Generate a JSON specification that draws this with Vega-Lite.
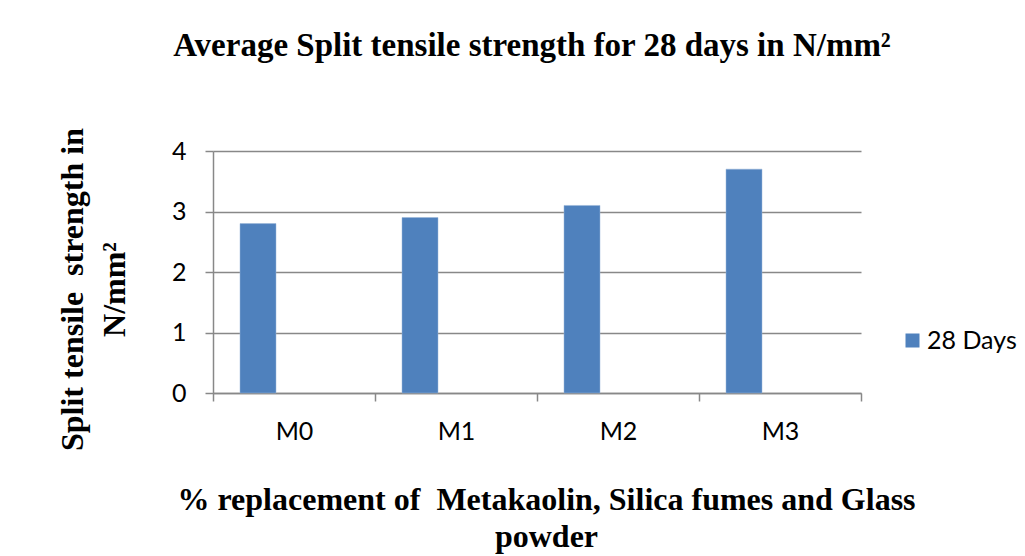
{
  "$schema": "https://vega.github.io/schema/vega-lite/v6.json",
  "width": 648,
  "height": 242,
  "autosize": {"type": "none"},
  "padding": {"left": 213, "top": 151, "right": 164, "bottom": 163},
  "background": "white",
  "title": {
    "text": "Average Split tensile strength for 28 days in N/mm²",
    "font": "Liberation Serif",
    "fontSize": 33,
    "fontWeight": "bold",
    "color": "black",
    "anchor": "middle",
    "frame": "group",
    "baseline": "alphabetic",
    "offset": 39,
    "dx": -5
  },
  "data": {
    "values": [
      {"mix": "M0", "series": "28 Days", "strength": 2.8},
      {"mix": "M1", "series": "28 Days", "strength": 2.9},
      {"mix": "M2", "series": "28 Days", "strength": 3.1},
      {"mix": "M3", "series": "28 Days", "strength": 3.7}
    ]
  },
  "mark": {"type": "bar", "stroke": "#9bb7d9", "strokeWidth": 0.5},
  "encoding": {
    "x": {
      "field": "mix",
      "type": "nominal",
      "sort": ["M0", "M1", "M2", "M3"],
      "scale": {"paddingInner": 0, "paddingOuter": 0},
      "axis": {
        "title": ["% replacement of\u00a0 Metakaolin, Silica fumes and Glass", "powder"],
        "titleFont": "Liberation Serif",
        "titleFontSize": 32,
        "titleFontWeight": "bold",
        "titleColor": "black",
        "titleBaseline": "alphabetic",
        "titleAnchor": "start",
        "titleAlign": "center",
        "titleX": 333,
        "titleY": 116,
        "titleLineHeight": 37,
        "labelAngle": 0,
        "labelFont": "Lato",
        "labelFontSize": 25,
        "labelColor": "black",
        "labelPadding": 18,
        "labelBaseline": "top",
        "tickBand": "extent",
        "tickSize": 8,
        "tickColor": "#888888",
        "tickWidth": 1.5,
        "domainColor": "#888888",
        "domainWidth": 1.5,
        "grid": false
      }
    },
    "xOffset": {
      "field": "series",
      "type": "nominal",
      "scale": {"domain": ["28 Days", "s2", "s3"], "paddingInner": 0, "paddingOuter": 0.75}
    },
    "y": {
      "field": "strength",
      "type": "quantitative",
      "scale": {"domain": [0, 4], "nice": false},
      "axis": {
        "title": ["Split tensile\u00a0 strength in", "N/mm²"],
        "titleFont": "Liberation Serif",
        "titleFontSize": 32,
        "titleFontWeight": "bold",
        "titleColor": "black",
        "titleAngle": -90,
        "titleBaseline": "alphabetic",
        "titleAlign": "center",
        "titleAnchor": "start",
        "titleX": -131,
        "titleY": 138,
        "titleLineHeight": 42,
        "values": [0, 1, 2, 3, 4],
        "labelFont": "Lato",
        "labelFontSize": 25,
        "labelColor": "black",
        "labelPadding": 19,
        "tickSize": 8,
        "tickColor": "#888888",
        "tickWidth": 1.5,
        "domainColor": "#888888",
        "domainWidth": 1.5,
        "grid": true,
        "gridColor": "#888888",
        "gridWidth": 1.5
      }
    },
    "color": {
      "field": "series",
      "type": "nominal",
      "scale": {"domain": ["28 Days"], "range": ["#4F81BD"]},
      "legend": {
        "title": null,
        "orient": "none",
        "legendX": 687,
        "legendY": 177,
        "padding": 0,
        "symbolType": "square",
        "symbolSize": 196,
        "symbolStrokeWidth": 0,
        "labelFont": "Lato",
        "labelFontSize": 25,
        "labelColor": "black",
        "labelOffset": 2
      }
    }
  },
  "config": {"view": {"stroke": null}}
}
